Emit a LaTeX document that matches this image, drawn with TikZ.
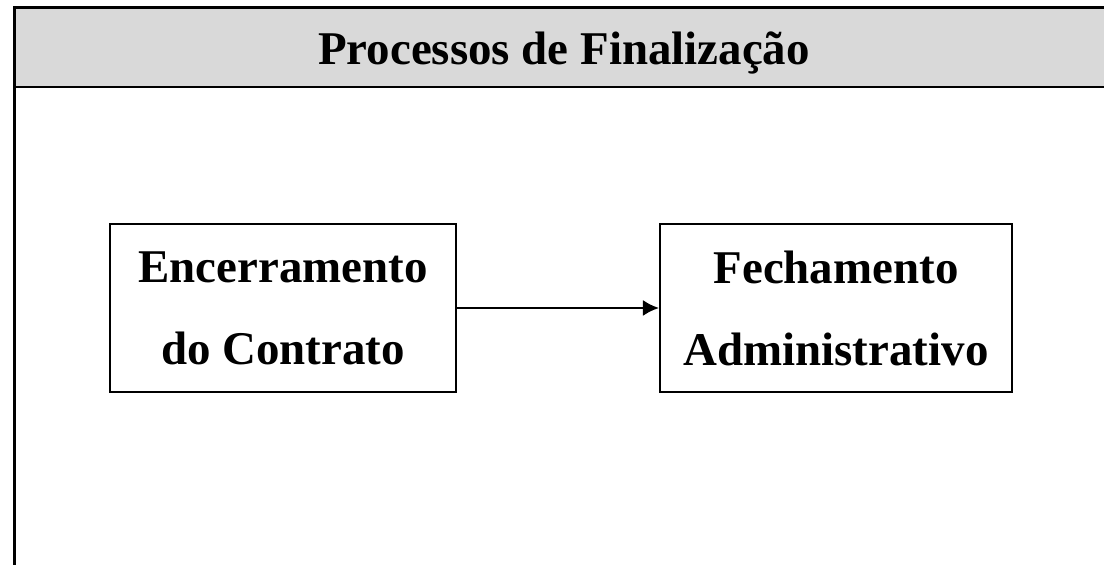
\documentclass[tikz,border=0pt]{standalone}
\usepackage{fontspec}
\setmainfont{Liberation Serif}
\usetikzlibrary{arrows.meta, positioning}
\definecolor{hdrgray}{RGB}{217,217,217}

\begin{document}
\begin{tikzpicture}[
    >=Latex, line width=1.2pt,
    procbox/.style={rectangle, draw, line width=1.2pt, minimum width=6.92cm, minimum height=3.36cm, align=center, font=\bfseries\fontsize{26.7}{46.7}\selectfont},
    title/.style={anchor=base, font=\bfseries\fontsize{26.7}{32}\selectfont},
    el/.style={-{Latex[length=3.2mm,width=3.2mm]}, line width=1.2pt}
  ]
    \useasboundingbox (0,0) rectangle (22.08,-11.3);
    % frame and header band
    \fill[hdrgray] (0.29,-0.15) rectangle (23,-1.74);
    \draw (23,-0.15) -- (0.29,-0.15) -- (0.29,-12);
    \draw (0.29,-1.74) -- (23,-1.74);
    \node[title] (hdr) at (11.28,-1.3) {Processos de Finalização};
    % processes
    \node[procbox] (enc) at (5.66,-6.16) {Encerramento\\do Contrato};
    \node[procbox, minimum width=7.04cm] (fech) at (16.72,-6.16) {Fechamento\\Administrativo};
    \draw[el] (enc) -- (fech);
\end{tikzpicture}
\end{document}
